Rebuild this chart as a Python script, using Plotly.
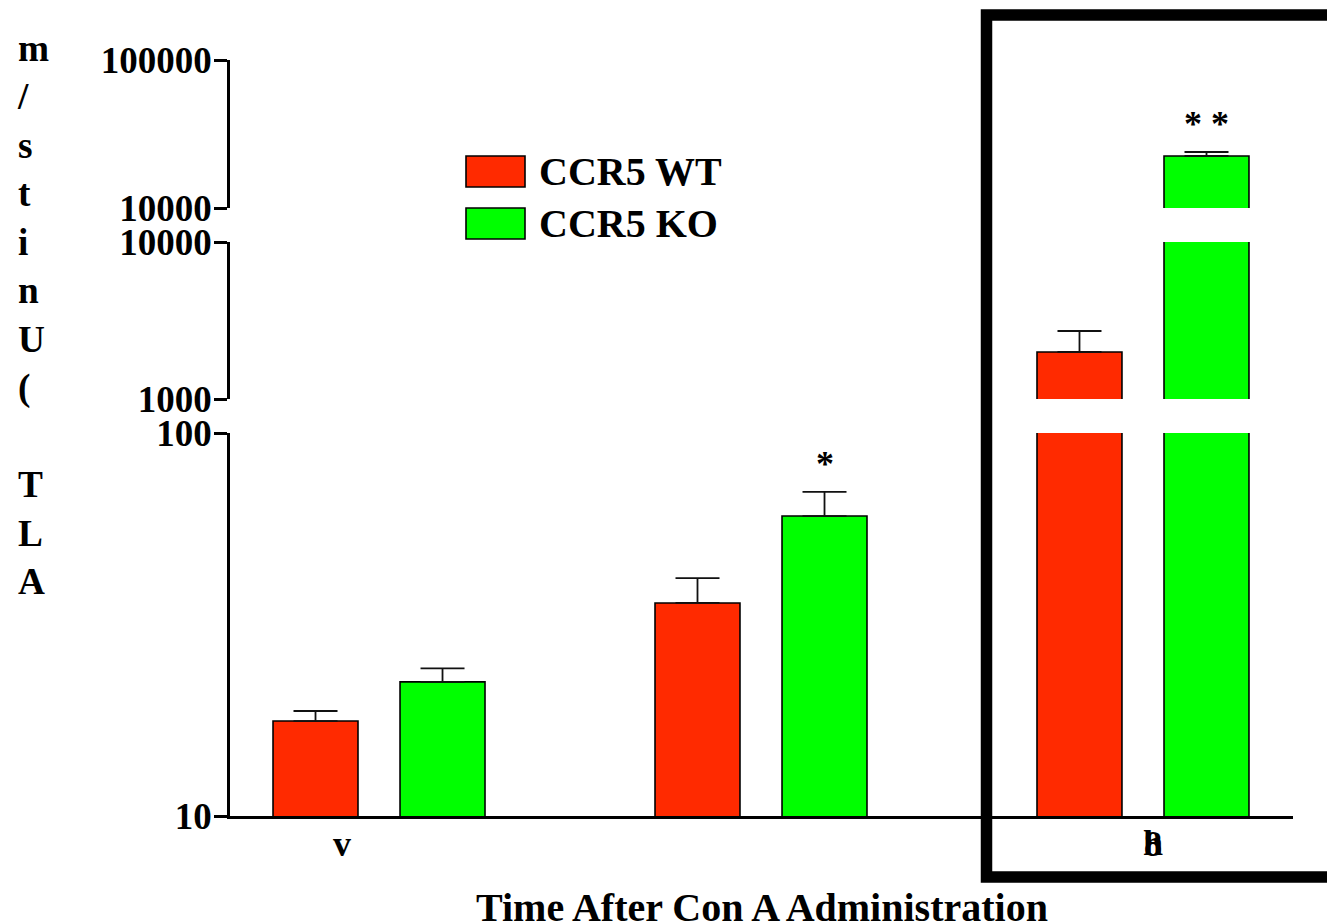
import math
import plotly.graph_objects as go

# ---- data ----
groups = [0, 1, 2]
x_tick_pos = [-0.097, 2.026]
x_tick_text = ["v", "8"]
series_names = ["CCR5 WT", "CCR5 KO"]
wt_mean = [17.7, 36.0, 1992]
wt_err = [1.1, 5.8, 719]
ko_mean = [22.4, 60.7, 22450]
ko_err = [1.9, 9.5, 1450]
ko_signif = ["", "*", "* *"]
colors = ["#FF2A00", "#00FF00"]

seg_ranges = [(1, 2), (3, 4), (4, 5)]          # log10 ranges for the three axis segments
seg_ticks = [[10, 100], [1000, 10000], [10000, 100000]]
seg_break_ticks = [[100], [1000, 10000], [10000]]

# ---- layout geometry (pixels) ----
W, H = 1327, 924
L, R, T, B = 230, 1293, 60, 816
PW, PH = R - L, B - T

def px(x):
    return (x - L) / PW

def py(y):
    return (B - y) / PH

domains = [[0, py(433)], [py(399), py(242)], [py(208), 1.0]]

FONT = "Liberation Serif, Times New Roman, serif"

fig = go.Figure()
axes = ["y", "y2", "y3"]
for ax in axes:
    for name, mean, err, col in [(series_names[0], wt_mean, wt_err, colors[0]),
                                 (series_names[1], ko_mean, ko_err, colors[1])]:
        fig.add_trace(go.Bar(
            x=groups, y=mean, name=name, xaxis="x", yaxis=ax,
            marker=dict(color=col, line=dict(color="black", width=1.6)),
            error_y=dict(type="data", array=err, arrayminus=[0] * len(err), symmetric=False,
                         color="#111111", thickness=1.8, width=22),
            showlegend=False,
        ))

layout = dict(
    width=W, height=H,
    margin=dict(l=L, r=W - R, t=T, b=H - B, pad=0),
    paper_bgcolor="white", plot_bgcolor="white",
    barmode="group", bargap=0.335, bargroupgap=0.331,
    showlegend=False,
    font=dict(family=FONT, size=36, color="black", weight="bold"),
    xaxis=dict(range=[-0.3901, 2.3927], domain=[0, 1], anchor="y",
               showline=True, linecolor="black", linewidth=2.5,
               ticks="", tickmode="array", tickvals=x_tick_pos, ticktext=x_tick_text,
               ticklabelstandoff=-6,
               tickfont=dict(family=FONT, size=36, color="black", weight="bold"),
               showgrid=False, zeroline=False),
)

for i, ax in enumerate(axes):
    key = "yaxis" if i == 0 else f"yaxis{i + 1}"
    layout[key] = dict(
        type="log", range=list(seg_ranges[i]), domain=domains[i], anchor="x",
        showline=True, linecolor="black", linewidth=2.5,
        ticks="outside", ticklen=13, tickwidth=2.5, tickcolor="black",
        tickmode="array", tickvals=seg_ticks[i], ticktext=[str(v) for v in seg_ticks[i]],
        ticklabelstandoff=-5,
        tickfont=dict(family=FONT, size=37, color="black", weight="bold"),
        showgrid=False, zeroline=False,
    )
    # overlay axis for inward tick stubs at the axis breaks
    okey = f"yaxis{i + 4}"
    layout[okey] = dict(
        type="log", range=list(seg_ranges[i]), overlaying=ax, anchor="x",
        showline=False, ticks="inside", ticklen=8, tickwidth=2.5, tickcolor="black",
        tickmode="array", tickvals=seg_break_ticks[i], showticklabels=False,
        showgrid=False, zeroline=False,
    )
    fig.add_trace(go.Scatter(x=[None], y=[None], xaxis="x", yaxis=f"y{i + 4}",
                             showlegend=False, hoverinfo="skip"))

fig.update_layout(**layout)

annotations = []
# significance marks above KO bars
green_off = (1 - 0.335) / 4
for g, s in enumerate(ko_signif):
    if not s:
        continue
    top = ko_mean[g] + ko_err[g]
    ax_i = 0 if top < 100 else (1 if top < 10000 else 2)
    annotations.append(dict(
        x=groups[g] + green_off, y=math.log10(top), xref="x", yref=axes[ax_i],
        text=s, showarrow=False, yanchor="middle", xanchor="center", yshift=28,
        font=dict(family=FONT, size=36, color="black", weight="bold")))

# overlapping "h" in the last tick label
annotations.append(dict(x=x_tick_pos[1], y=py(843), xref="x", yref="paper", text="h",
                        showarrow=False, xanchor="center", yanchor="middle",
                        font=dict(family=FONT, size=36, color="black", weight="bold")))

# legend (drawn)
legend_boxes = [(156, 187), (208, 239)]
shapes = []
for (y0, y1), col, name in zip(legend_boxes, colors, series_names):
    shapes.append(dict(type="rect", xref="paper", yref="paper",
                       x0=px(466), x1=px(525), y0=py(y1), y1=py(y0),
                       fillcolor=col, line=dict(color="black", width=1.6)))
    annotations.append(dict(x=px(537), y=py((y0 + y1) / 2), xref="paper", yref="paper",
                            text=name, showarrow=False, xanchor="left", yanchor="middle",
                            font=dict(family=FONT, size=40, color="black", weight="bold")))

# y-axis title (stacked letters)
ytitle = "m<br>/<br>s<br>t<br>i<br>n<br>U<br>(<br> <br>T<br>L<br>A"
annotations.append(dict(x=px(15), y=py(26), xref="paper", yref="paper", text=ytitle,
                        showarrow=False, xanchor="left", yanchor="top", align="left",
                        font=dict(family=FONT, size=37.3, color="black", weight="bold")))

# x-axis title
annotations.append(dict(x=px(762), y=py(907), xref="paper", yref="paper",
                        text="Time After Con A Administration", showarrow=False,
                        xanchor="center", yanchor="middle",
                        font=dict(family=FONT, size=40, color="black", weight="bold")))

# thick highlight frame around the last group
shapes.append(dict(type="rect", xref="paper", yref="paper",
                   x0=px(986.5), x1=px(1345), y0=py(877), y1=py(15),
                   line=dict(color="black", width=11.5), fillcolor="rgba(0,0,0,0)"))

fig.update_layout(annotations=annotations, shapes=shapes)
fig.write_html("out.html", config={"displayModeBar": False},
               post_script="document.body.style.margin='0px';")
